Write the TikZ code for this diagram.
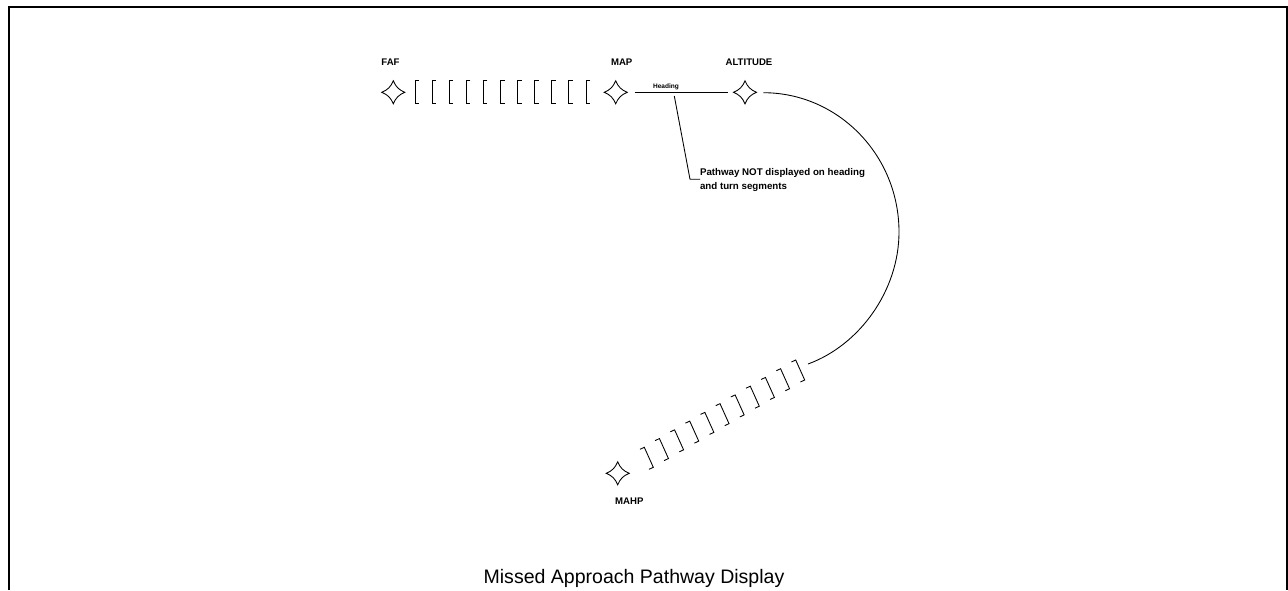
\documentclass[tikz,border=0pt]{standalone}
\usepackage{fontspec}
\setmainfont{Liberation Sans}
\tikzset{
  x=0.75pt,y=-0.75pt,
  ln/.style={draw=black,line width=0.65pt},
  frameln/.style={draw=black,line width=1.5pt},
  wpt/.style={inner sep=0pt,outer sep=0pt,minimum size=17.25pt},
  lbl/.style={font=\bfseries\fontsize{7.2pt}{8pt}\selectfont,inner sep=0pt,outer sep=0pt},
  smalllbl/.style={font=\bfseries\fontsize{4.9pt}{6pt}\selectfont,inner sep=0pt,outer sep=0pt},
  notelbl/.style={font=\bfseries\fontsize{7.3pt}{10.5pt}\selectfont,inner sep=0pt,outer sep=0pt,align=left,anchor=west},
  caplbl/.style={font=\fontsize{14.65pt}{16pt}\selectfont,inner sep=0pt,outer sep=0pt}
}
\newcommand{\wstar}[2]{%
  \node[wpt] (#1) at (#2) {};
  \draw[ln] (#1.center) ++(0,-11.5) .. controls +(2.5,6) and +(-6,-2.5) .. ++(11.5,11.5)
    .. controls +(-6,2.5) and +(2.5,-6) .. ++(-11.5,11.5)
    .. controls +(-2.5,-6) and +(6,2.5) .. ++(-11.5,-11.5)
    .. controls +(6,-2.5) and +(-2.5,6) .. cycle;}
\begin{document}
\begin{tikzpicture}
\useasboundingbox (0,0) rectangle (1288,590);
\draw[frameln] (9,590) -- (9,7) -- (1287,7) -- (1287,590);
\wstar{faf}{393.3,92.3}
\wstar{map}{615.7,92.3}
\wstar{alt}{745,92.3}
\wstar{mahp}{617.7,473.3}
\node[lbl] at (390.5,62.5) {FAF};
\node[lbl] at (621.7,62.5) {MAP};
\node[lbl] at (749,62.5) {ALTITUDE};
\node[lbl] at (629.3,501.5) {MAHP};
\foreach \i in {0,...,10}{
  \draw[ln] ({415+17.1*\i+4},80) -- ({415+17.1*\i},80) -- ({415+17.1*\i},103) -- ({415+17.1*\i+4},103);
  \draw[ln] ({644.3+15.14*\i-4.3},{447.3-8.73*\i+2}) -- ({644.3+15.14*\i},{447.3-8.73*\i})
     -- ({653.3+15.14*\i},{467.3-8.73*\i}) -- ({653.3+15.14*\i-4.3},{467.3-8.73*\i+2});
}
\coordinate (hs) at (634.7,92.3);
\coordinate (he) at (727.7,92.3);
\draw[ln] (hs) -- (he);
\node[smalllbl] (hd) at (666,86.7) {Heading};
\node[notelbl] (nt) at (700,179.5) {Pathway NOT displayed on heading\\and turn segments};
\coordinate (la) at (674.3,96);
\coordinate (lb) at (690,179.3);
\draw[ln] (la) -- (lb) -- (nt.west |- lb);
\coordinate (as) at (763.3,92.7);
\coordinate (am) at (899,232);
\coordinate (ae) at (808,364);
\draw[ln] (as) .. controls (838,92.7) and (899,155) .. (am) .. controls (899,290) and (860,345) .. (ae);
\node[caplbl] (ct) at (634,578.5) {Missed Approach Pathway Display};
\end{tikzpicture}
\end{document}
